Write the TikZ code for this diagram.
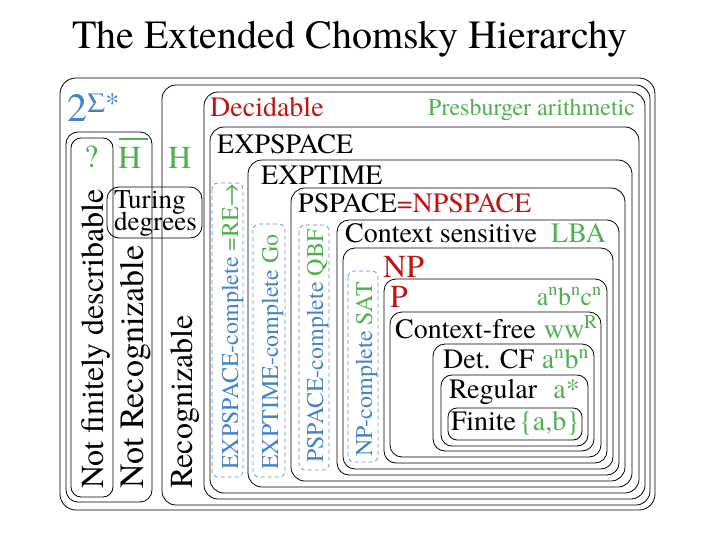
\documentclass[tikz,border=0pt]{standalone}
\usepackage{fontspec}
\IfFontExistsTF{TeX Gyre Termes}{\setmainfont{TeX Gyre Termes}}{\setmainfont{Liberation Serif}}
\definecolor{grn}{RGB}{80,176,80}
\definecolor{blu}{RGB}{65,130,200}
\definecolor{rd}{RGB}{192,20,20}
\definecolor{dbl}{RGB}{95,145,195}
\newcommand\myfs[1]{\fontsize{#1}{#1}\selectfont}
\tikzset{
  box/.style={draw, line width=0.8pt},
  dbox/.style={draw=dbl, dashed, dash pattern=on 4pt off 3pt, line width=0.7pt, rounded corners=6pt},
  lbl/.style={inner sep=0pt, anchor=base west},
  rlbl/.style={inner sep=0pt, anchor=base east},
  vlbl/.style={inner sep=0pt, anchor=base west, rotate=90},
}
\begin{document}
\begin{tikzpicture}[x=1pt,y=-1pt]
\useasboundingbox (0,0) rectangle (720,540);
% title
\node[lbl] (title) at (72,49) {\myfs{40}The Extended Chomsky Hierarchy};
% boxes
\draw[box, rounded corners=16pt] (60,78) rectangle (655,510);
\draw[box, rounded corners=14pt] (162,85) rectangle (650,505);
\draw[box, rounded corners=12pt] (66,132) rectangle (152,502);
\draw[box, rounded corners=10pt] (71,138) rectangle (113,497);
\draw[box, rounded corners=12pt] (107,187) rectangle (202,238);
\draw[box, rounded corners=14pt] (204,92) rectangle (645,499);
\draw[box, rounded corners=14pt] (210,127) rectangle (639,493);
\draw[box, rounded corners=14pt] (248,160) rectangle (632,487);
\draw[box, rounded corners=14pt] (291,188) rectangle (625,481);
\draw[box, rounded corners=12pt] (337,220) rectangle (619,475);
\draw[box, rounded corners=12pt] (343,248) rectangle (613,469);
\draw[box, rounded corners=12pt] (384,279) rectangle (607,463);
\draw[box, rounded corners=12pt] (390,312) rectangle (601,457);
\draw[box, rounded corners=12pt] (433,344) rectangle (594,451);
\draw[box, rounded corners=11pt] (441,375) rectangle (588,446);
\draw[box, rounded corners=9pt] (448,408) rectangle (582,440);
% dashed complete boxes
\draw[dbox] (212,183) rectangle (243,477);
\draw[dbox] (253,224) rectangle (285,477);
\draw[dbox] (299,225) rectangle (329,470);
\draw[dbox] (348,271) rectangle (378,462);
% left texts
\node[lbl, text=blu] (all) at (67,122) {\myfs{40}2\textsuperscript{Σ*}};
\node[lbl, text=grn] (q) at (84,168) {\myfs{32}?};
\node[lbl, text=grn] (hbar) at (118,169) {\myfs{32}H};
\draw[grn, line width=2.5pt] (119,139) -- (148,139);
\node[lbl, text=grn] (h) at (168,169) {\myfs{32}H};
\node[inner sep=0pt, anchor=north west, align=left, font=\myfs{27}] (tur) at (114,190)
  {Turing\\[-5pt]degrees};
\node[vlbl] (nfd) at (103,489) {\myfs{32}Not finitely describable};
\node[vlbl] (nr) at (143,489) {\myfs{34}Not Recognizable};
\node[vlbl] (rec) at (192,489) {\myfs{32}Recognizable};
% vertical complete texts
\node[vlbl] (c1) at (238,470) {\myfs{24}\color{blu}EXPSPACE-complete \color{grn}=RE→};
\node[vlbl] (c2) at (278,470) {\myfs{24}\color{blu}EXPTIME-complete \color{grn}Go};
\node[vlbl] (c3) at (323,463) {\myfs{24}\color{blu}PSPACE-complete \color{grn}QBF};
\node[vlbl] (c4) at (372,457) {\myfs{24}\color{blu}NP-complete \color{grn}SAT};
% class names
\node[lbl, text=rd] (dec) at (210,117) {\myfs{28}Decidable};
\node[lbl, text=grn] (pres) at (428,116) {\myfs{24}Presburger arithmetic};
\node[lbl] (expspace) at (217,154) {\myfs{28}EXPSPACE};
\node[lbl] (exptime) at (261,185) {\myfs{28}EXPTIME};
\node[lbl] (pspace) at (298,213) {\myfs{28}PSPACE\color{rd}=NPSPACE};
\node[lbl] (cs) at (345,243) {\myfs{28}Context sensitive};
\node[rlbl, text=grn] (lba) at (606,243) {\myfs{28}LBA};
\node[lbl, text=rd] (np) at (383,277) {\myfs{32}NP};
\node[lbl, text=rd] (p) at (390,307) {\myfs{32}P};
\node[rlbl, text=grn] (anbncn) at (602,305) {\myfs{26}a\textsuperscript{n}b\textsuperscript{n}c\textsuperscript{n}};
\node[lbl] (cf) at (395,338) {\myfs{28}Context-free};
\node[rlbl, text=grn] (wwr) at (598,338) {\myfs{28}ww\textsuperscript{R}};
\node[lbl] (dcf) at (443,368) {\myfs{28}Det. CF};
\node[rlbl, text=grn] (anbn) at (589,368) {\myfs{28}a\textsuperscript{n}b\textsuperscript{n}};
\node[lbl] (reg) at (449,398) {\myfs{28}Regular};
\node[rlbl, text=grn] (astar) at (580,398) {\myfs{28}a*};
\node[lbl] (fin) at (451,430) {\myfs{28}Finite};
\node[rlbl, text=grn] (ab) at (580,430) {\myfs{28}\{a,b\}};
\end{tikzpicture}
\end{document}
